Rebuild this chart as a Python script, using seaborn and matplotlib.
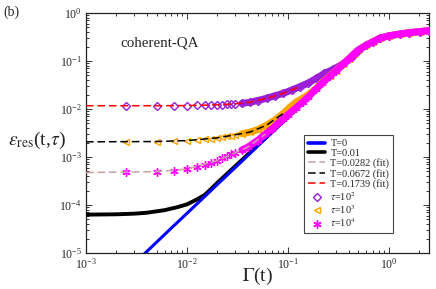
import matplotlib
matplotlib.use("Agg")
import matplotlib.pyplot as plt
import numpy as np
import pandas as pd
import seaborn as sns
from matplotlib.ticker import LogLocator, NullFormatter

# T=0 (blue) and T=0.01 (black) curves
t0_gamma = [0.0035, 0.005, 0.007, 0.01, 0.015, 0.02, 0.03, 0.04, 0.06, 0.08, 0.1,
            0.15, 0.2, 0.3, 0.4, 0.5, 0.6, 0.7, 0.815, 1.0, 1.285, 1.6, 2.03, 2.5]
t0_eps = [8.2e-6, 1.68e-5, 3.3e-5, 6.7e-5, 1.5e-4, 2.68e-4, 6.0e-4, 1.07e-3, 2.41e-3,
          4.3e-3, 6.7e-3, 0.0151, 0.0268, 0.06, 0.104, 0.16, 0.215, 0.253, 0.297,
          0.335, 0.365, 0.39, 0.41, 0.43]

t001_gamma = [0.001, 0.002, 0.003, 0.004, 0.006, 0.008, 0.01, 0.0125, 0.015, 0.0175,
              0.02, 0.03, 0.04, 0.06, 0.08, 0.1, 0.15, 0.2, 0.3, 0.4, 0.5, 0.6, 0.7,
              0.815, 1.0, 1.285, 1.6, 2.03, 2.5]
t001_eps = [6.3e-5, 6.4e-5, 6.6e-5, 6.9e-5, 7.8e-5, 9.0e-5, 1.03e-4, 1.3e-4, 1.62e-4,
            2.2e-4, 2.9e-4, 6.4e-4, 1.12e-3, 2.5e-3, 4.4e-3, 6.8e-3, 0.0152, 0.0269,
            0.06, 0.104, 0.16, 0.215, 0.253, 0.297, 0.335, 0.365, 0.39, 0.41, 0.43]

# coherent-QA data for three annealing times
tau2_gamma = [0.0025, 0.005, 0.0075, 0.01, 0.0125, 0.015, 0.0175, 0.02, 0.0225, 0.025,
              0.0275, 0.03, 0.035, 0.042, 0.05, 0.0615, 0.075, 0.09, 0.11, 0.1315,
              0.16, 0.192, 0.23, 0.281, 0.327, 0.38, 0.43, 0.5, 0.6, 0.7, 0.815, 1.0,
              1.285, 1.6, 2.03, 2.5]
tau2_eps = [0.0117, 0.0117, 0.0117, 0.0118, 0.0119, 0.012, 0.0121, 0.0122, 0.0123,
            0.0125, 0.0126, 0.0128, 0.0131, 0.0138, 0.015, 0.0167, 0.019, 0.0212,
            0.025, 0.0292, 0.035, 0.0436, 0.055, 0.067, 0.08, 0.098, 0.12, 0.165,
            0.215, 0.253, 0.297, 0.335, 0.365, 0.39, 0.41, 0.43]

tau3_gamma = [0.0025, 0.005, 0.0075, 0.01, 0.0125, 0.015, 0.0175, 0.02, 0.0225, 0.025,
              0.0275, 0.03, 0.035, 0.042, 0.05, 0.0615, 0.075, 0.09, 0.105, 0.122,
              0.14, 0.16, 0.19, 0.22, 0.26, 0.3, 0.35, 0.4, 0.45, 0.5, 0.6, 0.7,
              0.815, 1.0, 1.285, 1.6, 2.03, 2.5]
tau3_eps = [2.08e-3, 2.1e-3, 2.15e-3, 2.2e-3, 2.26e-3, 2.33e-3, 2.42e-3, 2.5e-3,
            2.6e-3, 2.7e-3, 2.8e-3, 2.9e-3, 3.05e-3, 3.3e-3, 3.7e-3, 4.6e-3, 6.0e-3,
            8.1e-3, 0.011, 0.0142, 0.0168, 0.02, 0.027, 0.036, 0.049, 0.063, 0.086,
            0.11, 0.14, 0.17, 0.215, 0.253, 0.297, 0.335, 0.365, 0.39, 0.41, 0.43]

tau4_gamma = [0.0025, 0.005, 0.0075, 0.01, 0.0125, 0.015, 0.0175, 0.02, 0.0225, 0.025,
              0.0275, 0.03, 0.035, 0.04, 0.05, 0.06, 0.07, 0.08, 0.09, 0.1, 0.12,
              0.14, 0.16, 0.19, 0.22, 0.26, 0.3, 0.35, 0.4, 0.45, 0.5, 0.6, 0.7,
              0.815, 1.0, 1.285, 1.6, 2.03, 2.5]
tau4_eps = [4.8e-4, 4.95e-4, 5.2e-4, 5.6e-4, 6.1e-4, 6.7e-4, 7.5e-4, 8.4e-4, 9.4e-4,
            1.05e-3, 1.15e-3, 1.22e-3, 1.4e-3, 1.6e-3, 2.2e-3, 3.0e-3, 3.9e-3, 5.0e-3,
            6.3e-3, 7.6e-3, 0.0105, 0.014, 0.018, 0.026, 0.035, 0.048, 0.062, 0.085,
            0.11, 0.14, 0.17, 0.215, 0.253, 0.297, 0.335, 0.365, 0.39, 0.41, 0.43]

# fits
fit_hi_gamma = [0.001, 0.005, 0.01, 0.02, 0.03, 0.042, 0.0615, 0.09, 0.13]
fit_hi_eps = [0.0117, 0.0117, 0.0118, 0.0122, 0.0128, 0.0138, 0.0167, 0.0212, 0.029]
fit_mid_gamma = [0.001, 0.005, 0.01, 0.02, 0.03, 0.042, 0.0615, 0.09]
fit_mid_eps = [2.07e-3, 2.1e-3, 2.2e-3, 2.5e-3, 2.9e-3, 3.3e-3, 4.6e-3, 8.1e-3]
fit_lo_gamma = [0.001, 0.005, 0.01, 0.02, 0.03, 0.04, 0.06]
fit_lo_eps = [4.75e-4, 4.95e-4, 5.6e-4, 8.4e-4, 1.22e-3, 1.6e-3, 3.0e-3]

sns.set_theme(style="ticks")
plt.rcParams["font.family"] = ["Liberation Serif", "DejaVu Serif"]
plt.rcParams["mathtext.fontset"] = "stix"

fig, ax = plt.subplots(figsize=(4.36, 2.89), dpi=100)
fig.subplots_adjust(left=86 / 436, right=429 / 436, top=1 - 13 / 289, bottom=1 - 253 / 289)
ax.set_xscale("log")
ax.set_yscale("log")

sns.lineplot(x=t001_gamma, y=t001_eps, ax=ax, color="black", lw=2.8,
             sort=False, estimator=None, label="T=0.01", zorder=3)
sns.lineplot(x=t0_gamma, y=t0_eps, ax=ax, color="#0000ff", lw=2.2,
             sort=False, estimator=None, label="T=0", zorder=3)

series = [
    (tau2_gamma, tau2_eps, "#9a1fd6", "D", 4.2, r"$\tau$=10$^2$"),
    (tau3_gamma, tau3_eps, "#ffa500", "<", 5.0, r"$\tau$=10$^3$"),
    (tau4_gamma, tau4_eps, "#ff00ff", (6, 2, 0), 6.0, r"$\tau$=10$^4$"),
]
for i, (g, e, c, m, ms, lab) in enumerate(series):
    df = pd.DataFrame({"gamma": g, "eps": e})
    band = df[df.gamma >= 0.033]
    sns.lineplot(data=band, x="gamma", y="eps", ax=ax, color=c, lw=5.0,
                 sort=False, estimator=None, zorder=4 + i, label="_nolegend_")
    sns.lineplot(data=df, x="gamma", y="eps", ax=ax, color=c, linestyle="",
                 marker=m, markersize=ms, markerfacecolor="none",
                 markeredgecolor=c, markeredgewidth=1.0, sort=False,
                 estimator=None, zorder=4 + i, label=lab)

fits = [
    (fit_lo_gamma, fit_lo_eps, "#c8a0a0", "T=0.0282 (fit)"),
    (fit_mid_gamma, fit_mid_eps, "black", "T=0.0672 (fit)"),
    (fit_hi_gamma, fit_hi_eps, "#ff0000", "T=0.1739 (fit)"),
]
for g, e, c, lab in fits:
    sns.lineplot(x=g, y=e, ax=ax, color=c, lw=1.1, dashes=False, linestyle=(0, (5, 2.5)),
                 sort=False, estimator=None, zorder=8, label=lab)

ax.set_xlim(1e-3, 2.5)
ax.set_ylim(1e-5, 1)
for a in (ax.xaxis, ax.yaxis):
    a.set_minor_locator(LogLocator(base=10, subs=np.arange(2, 10), numticks=30))
    a.set_minor_formatter(NullFormatter())
ax.tick_params(which="both", direction="in", top=True, right=True,
               width=0.7, labelsize=8.5, pad=3, color="#333333")
ax.tick_params(which="major", length=4.5)
ax.tick_params(which="minor", length=2.5)
for s in ax.spines.values():
    s.set_linewidth(0.9)
    s.set_color("#222222")

handles, labels = ax.get_legend_handles_labels()
lookup = dict(zip(labels, handles))
order = ["T=0", "T=0.01", "T=0.0282 (fit)", "T=0.0672 (fit)", "T=0.1739 (fit)",
         r"$\tau$=10$^2$", r"$\tau$=10$^3$", r"$\tau$=10$^4$"]
leg = ax.legend([lookup[k] for k in order], order, loc="lower right",
                bbox_to_anchor=(0.895, 0.083), borderaxespad=0, fontsize=7.4,
                frameon=True, fancybox=False, framealpha=1, edgecolor="#444444",
                handlelength=1.7, handletextpad=0.5, labelspacing=0.05,
                borderpad=0.35, numpoints=1)
leg.get_frame().set_linewidth(0.8)
for h in leg.legend_handles:
    if h.get_linewidth() > 2:
        h.set_linewidth(2.6)

ax.text(0.099, 0.875, "coherent-QA", transform=ax.transAxes, fontsize=10.8,
        ha="left", va="center")
ax.set_xlabel("")
ax.set_ylabel("")
fig.text(258 / 436, 1 - 276 / 289, r"$\Gamma$(t)", fontsize=14, ha="center", va="center")
fig.text(8 / 436, 1 - 140 / 289, r"$\varepsilon_{\rm res}$(t,$\tau$)", fontsize=14,
         ha="left", va="center")
fig.text(3 / 436, 1 - 12 / 289, "(b)", fontsize=10, ha="left", va="center")

fig.savefig("out.png", dpi=100)
plt.close(fig)
